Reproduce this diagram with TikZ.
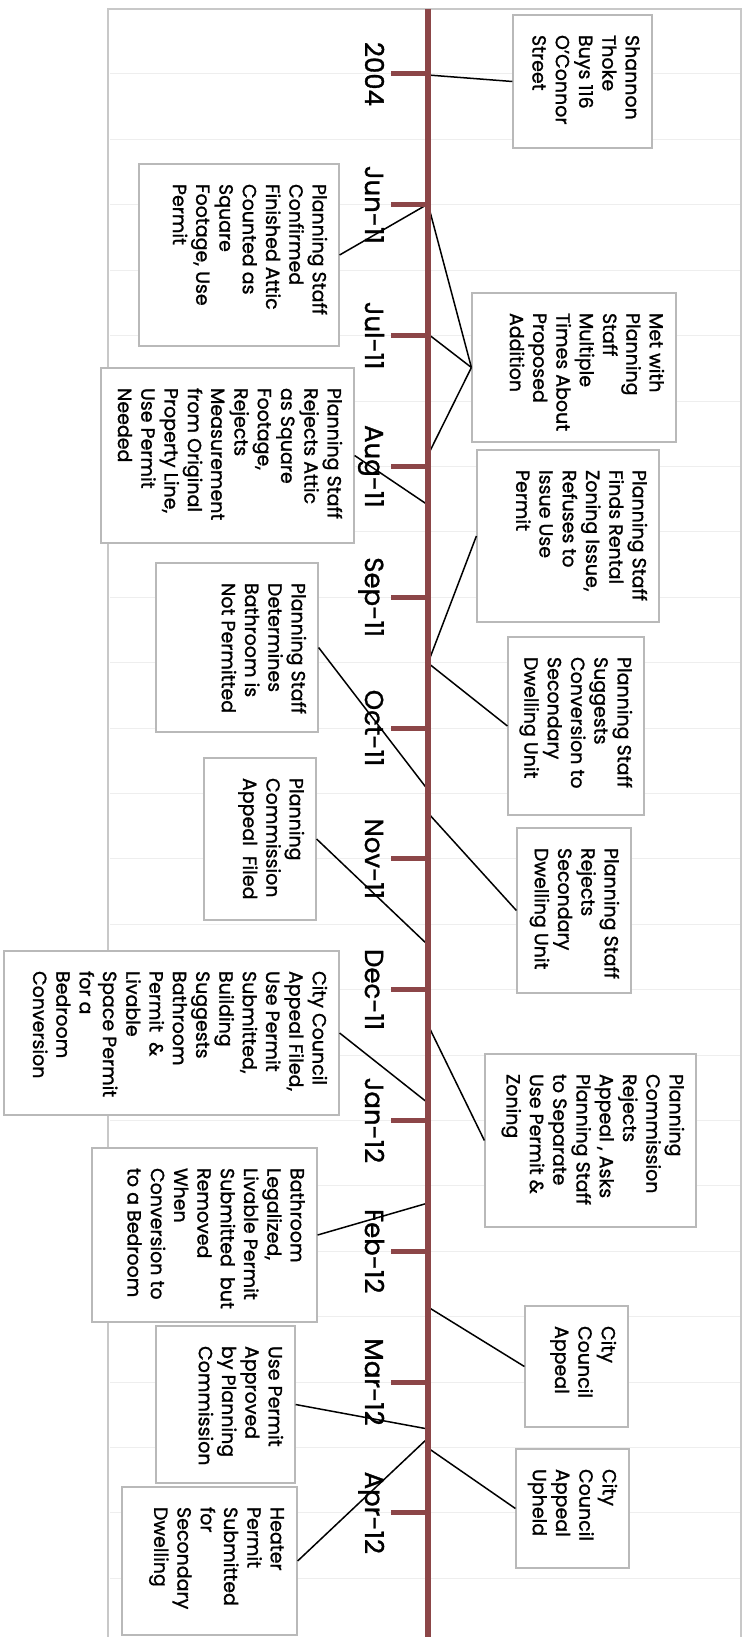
\documentclass[tikz,border=0pt]{standalone}
\usepackage{fontspec}
\setmainfont{Poppins}[FakeBold=1.2]
\definecolor{AxisBrown}{RGB}{140,70,72}
\definecolor{BoxGray}{RGB}{185,185,185}
\definecolor{FrameGray}{RGB}{200,200,200}
\definecolor{GridGray}{RGB}{238,238,238}
\newcommand{\evfont}{\fontsize{19}{23.3}\selectfont}
\newcommand{\evtext}[3]{\parbox[t][#2][t]{#1}{\begin{tabular}[t]{@{}l@{}}#3\end{tabular}}}

\begin{document}
\begin{tikzpicture}[
        x=1pt,y=-1pt,
        evbox/.style={draw=BoxGray,line width=1.2pt,fill=white,rotate=-90,
                      inner xsep=20pt,inner ysep=10pt,font=\evfont},
        datelab/.style={rotate=-90,anchor=base,inner sep=0pt,
                        font=\fontsize{26}{30}\selectfont},
        conn/.style={line width=1.5pt,black},
        axis/.style={line width=6pt,AxisBrown},
        tickmark/.style={line width=5pt,AxisBrown}
      ]
        \useasboundingbox (0,0) rectangle (752,1637);
        % frame and faint grid
        \foreach \k in {0,...,23} \draw[GridGray,line width=1pt] (110,{74+65.4*\k}) -- (740,{74+65.4*\k});
        \draw[FrameGray,line width=1.5pt] (108,1637) -- (108,9) -- (741,9) -- (741,1637);

        % dates
        \foreach \d [count=\i from 0] in {2004,Jun-11,Jul-11,Aug-11,Sep-11,Oct-11,Nov-11,Dec-11,Jan-12,Feb-12,Mar-12,Apr-12}
          \node[datelab] (d\i) at (365,{74+130.8*\i}) {\d};

        % events
        \node[evbox] (buy) at (582.5,81.5) {\evtext{93pt}{119pt}{Shannon\\Thoke\\Buys 116\\O'Connor\\Street}};
        \node[evbox] (attic) at (239,255) {\evtext{142pt}{180pt}{Planning Staff\\Confirmed\\Finished Attic\\Counted as\\Square\\Footage, Use\\Permit}};
        \node[evbox] (met) at (574,367.5) {\evtext{109pt}{184pt}{Met with\\Planning\\Staff\\Multiple\\Times About\\Proposed\\Addition}};
        \node[evbox] (rejattic) at (227.5,455.5) {\evtext{135pt}{233pt}{Planning Staff\\Rejects Attic\\as Square\\Footage,\\Rejects\\Measurement\\from Original\\Property Line,\\Use Permit\\Needed}};
        \node[evbox] (rental) at (568,536) {\evtext{132pt}{162pt}{Planning Staff\\Finds Rental\\Zoning Issue,\\Refuses to\\Issue Use\\Permit}};
        \node[evbox] (suggest) at (576,726) {\evtext{138pt}{116pt}{Planning Staff\\Suggests\\Conversion to\\Secondary\\Dwelling Unit}};
        \node[evbox] (bath) at (237,647.5) {\evtext{129pt}{142pt}{Planning Staff\\Determines\\Bathroom is\\Not Permitted}};
        \node[evbox] (pcfiled) at (260,839) {\evtext{122pt}{92pt}{Planning\\Commission\\Appeal\ \ Filed}};
        \node[evbox] (rejsdu) at (574,910.5) {\evtext{125pt}{94pt}{Planning Staff\\Rejects\\Secondary\\Dwelling Unit}};
        \node[evbox] (ccfiled) at (171.5,1033) {\evtext{124pt}{315pt}{City Council\\Appeal Filed,\\Use Permit\\Submitted,\\Building\\Suggests\\Bathroom\\Permit\ \ \&\\Livable\\Space Permit\\for a\\Bedroom\\Conversion}};
        \node[evbox] (pcreject) at (590.5,1140.5) {\evtext{133pt}{191pt}{Planning\\Commission\\Rejects\\Appeal , Asks\\Planning Staff\\to Separate\\Use Permit \&\\Zoning}};
        \node[evbox] (legal) at (204.5,1235) {\evtext{134pt}{205pt}{Bathroom\\Legalized,\\Livable Permit\\Submitted\ \ but\\Removed\\When\\Conversion to\\to a Bedroom}};
        \node[evbox] (ccappeal) at (576.5,1366.5) {\evtext{81pt}{83pt}{City\\Council\\Appeal}};
        \node[evbox] (useok) at (225.5,1404.5) {\evtext{117pt}{119pt}{Use Permit\\Approved\\by Planning\\Commission}};
        \node[evbox] (upheld) at (572.5,1508.5) {\evtext{79pt}{93pt}{City\\Council\\Appeal\\Upheld}};
        \node[evbox] (heater) at (209.5,1561) {\evtext{108pt}{155pt}{Heater\\Permit\\Submitted\\for\\Secondary\\Dwelling}};

        % points on the time line
        \coordinate (p-buy) at (428,75);
        \coordinate (p-jun) at (428,204);
        \coordinate (p-jul) at (428,334);
        \coordinate (p-met) at (428,455);
        \coordinate (p-rej) at (428,505);
        \coordinate (p-zone) at (428,663);
        \coordinate (p-bath) at (428,790);
        \coordinate (p-sdu) at (428,813);
        \coordinate (p-pc) at (428,945);
        \coordinate (p-pcrej) at (428,1025);
        \coordinate (p-cc) at (428,1103);
        \coordinate (p-legal) at (428,1203);
        \coordinate (p-ccap) at (428,1307);
        \coordinate (p-use) at (428,1429);
        \coordinate (p-heat) at (428,1438);
        \coordinate (p-up) at (428,1448);

        \draw[conn] (buy.south)--(p-buy); \draw[conn] (attic.north)--(p-jun);
        \draw[conn] (met.south)--(p-jun); \draw[conn] (met.south)--(p-jul); \draw[conn] (met.south)--(p-met);
        \draw[conn] (rejattic.north)--(p-rej); \draw[conn] (rental.south)--(p-zone); \draw[conn] (suggest.south)--(p-zone);
        \draw[conn] (bath.north)--(p-bath); \draw[conn] (rejsdu.south)--(p-sdu); \draw[conn] (pcfiled.north)--(p-pc);
        \draw[conn] (pcreject.south)--(p-pcrej); \draw[conn] (ccfiled.north)--(p-cc); \draw[conn] (legal.north)--(p-legal);
        \draw[conn] (ccappeal.south)--(p-ccap); \draw[conn] (useok.north)--(p-use); \draw[conn] (heater.north)--(p-heat);
        \draw[conn] (upheld.south)--(p-up);

        % time line with month ticks
        \draw[axis] (428,9) -- (428,1637);
        \foreach \i in {0,...,11} \draw[tickmark] (391,{74+130.8*\i}) -- (428,{74+130.8*\i});
      \end{tikzpicture}
\end{document}
